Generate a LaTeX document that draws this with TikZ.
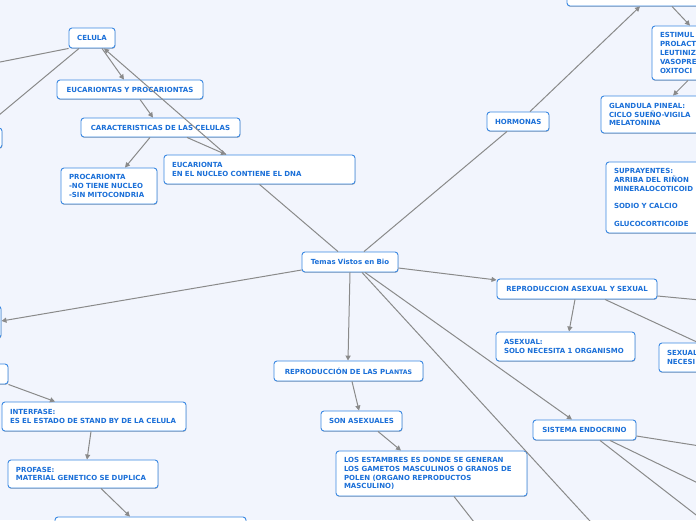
\documentclass[tikz,border=0pt]{standalone}
\usepackage{fontspec}
\setmainfont{DejaVu Sans}
\usetikzlibrary{arrows.meta,shadows}
\definecolor{bgc}{HTML}{F2F5FD}
\definecolor{bordc}{HTML}{3A88E2}
\definecolor{txtc}{HTML}{1A6FD8}
\definecolor{linec}{HTML}{8A8A8A}
\tikzset{
  box/.style={draw=bordc, line width=0.9pt, fill=white, rounded corners=3pt,
    text=txtc, font=\fontsize{7}{8.8}\selectfont\bfseries,
    inner xsep=8pt, inner ysep=2pt, align=left,
    drop shadow={shadow xshift=0.4pt, shadow yshift=-0.9pt, opacity=0.25, fill=black}},
  cbox/.style={box, align=center},
  conn/.style={draw=linec, line width=1pt},
  arr/.style={conn, -{Triangle[width=5pt,length=5pt]}}
}
\begin{document}
\begin{tikzpicture}[x=1pt,y=-1pt]
\useasboundingbox (0,0) rectangle (696,520);
\fill[bgc] (0,0) rectangle (696,520);

% off-canvas coordinates
\coordinate (offA) at (-10,64);
\coordinate (offB) at (600,532);
\coordinate (offC) at (700,300);
\coordinate (offD) at (474,522);
\coordinate (offE) at (700,446);
\coordinate (offF) at (700,484);
\coordinate (offG) at (700,518);

% nodes
\node[cbox, text width=30pt, minimum height=20pt] (celula) at (92,38) {CELULA};
\node[cbox, text width=130pt, minimum height=19pt] (eyp) at (130,89.5) {EUCARIONTAS Y PROCARIONTAS};
\node[cbox, text width=143pt, minimum height=19pt] (carac) at (160.5,127.5) {CARACTERISTICAS DE LAS CELULAS};
\node[box, text width=80pt, minimum height=36pt] (proc) at (109,186) {PROCARIONTA\\-NO TIENE NUCLEO\\-SIN MITOCONDRIA};
\node[box, text width=175pt, minimum height=29pt] (euc) at (259.5,169.5) {EUCARIONTA\\EN EL NUCLEO CONTIENE EL DNA};
\node[cbox, text width=80pt, minimum height=20pt] (temas) at (350,262) {Temas Vistos en Bio};
\node[cbox, text width=46pt, minimum height=19pt] (horm) at (518,121.5) {HORMONAS};
\node[box, text width=177pt, minimum height=26pt] (topbox) at (663.5,-7) {};
\node[box, text width=92pt, minimum height=54pt] (estim) at (706,53) {ESTIMUL\\PROLACT\\LEUTINIZ\\VASOPRE\\OXITOCI};
\node[box, text width=173pt, minimum height=37pt] (pineal) at (695.5,114.5) {GLANDULA PINEAL:\\CICLO SUEÑO-VIGILA\\MELATONINA};
\node[box, text width=168pt, minimum height=71pt] (supra) at (698,197.5) {SUPRAYENTES:\\ARRIBA DEL RIÑON\\MINERALOCOTICOID\\[8.8pt]SODIO Y CALCIO\\[8.8pt]GLUCOCORTICOIDE};
\node[cbox, text width=144pt, minimum height=20pt] (repro) at (577,289) {REPRODUCCION ASEXUAL Y SEXUAL};
\node[box, text width=123pt, minimum height=29pt] (asex) at (565.5,346.5) {ASEXUAL:\\SOLO NECESITA 1 ORGANISMO};
\node[box, text width=85pt, minimum height=29pt] (sexual) at (709.5,357.5) {SEXUAL\\NECESI};
\node[cbox, text width=133pt, minimum height=20pt] (plantas) at (348.5,371) {REPRODUCCIÓN DE LAS P{\fontsize{6.2}{8}\selectfont LANTAS}};
\node[cbox, text width=65pt, minimum height=20pt] (sonasex) at (361.5,421) {SON ASEXUALES};
\node[box, text width=175pt, minimum height=45pt] (estamb) at (431.5,473.5) {LOS ESTAMBRES ES DONDE SE GENERAN\\LOS GAMETOS MASCULINOS O GRANOS DE\\POLEN (ORGANO REPRODUCTOS\\MASCULINO)};
\node[cbox, text width=87pt, minimum height=20pt] (sistema) at (584.5,430) {SISTEMA ENDOCRINO};
\node[box, text width=168pt, minimum height=29pt] (interf) at (94,416.5) {INTERFASE:\\ES EL ESTADO DE STAND BY DE LA CELULA};
\node[box, text width=134pt, minimum height=28pt] (profase) at (83,474) {PROFASE:\\MATERIAL GENETICO SE DUPLICA};
\node[box, text width=175pt, minimum height=28pt] (bottomb) at (150.5,531) {};
\node[box, text width=86pt, minimum height=20pt] (leftA) at (-49,138) {};
\node[box, text width=135pt, minimum height=32pt] (leftB) at (-74.5,322) {};
\node[box, text width=92pt, minimum height=20pt] (leftC) at (-46,374) {};

% connectors
\draw[conn] (celula.south west) -- (offA);
\draw[conn] ([xshift=-13pt]celula.south) -- ([xshift=33pt]leftA.north);
\draw[arr] ([xshift=10pt]celula.south) -- ([xshift=-6pt]eyp.north);
\draw[arr] ([xshift=-33.5pt]euc.north) -- ([xshift=12pt]celula.south);
\draw[arr] ([xshift=10pt]eyp.south) -- ([xshift=-7.5pt]carac.north);
\draw[arr] ([xshift=-10.5pt]carac.south) -- ([xshift=16pt]proc.north);
\draw[arr] ([xshift=26.5pt]carac.south) -- ([xshift=-33.5pt]euc.north);
\draw[conn] (euc.south) -- ([xshift=-12pt]temas.north);
\draw[conn] ([xshift=14pt]temas.north) -- ([xshift=-11pt]horm.south);
\draw[arr] ([xshift=12pt]horm.north) -- ([xshift=-23.5pt]topbox.south);
\draw[arr] ([xshift=8.5pt]topbox.south) -- ([xshift=-16pt]estim.north);
\draw[arr] ([xshift=-18pt]estim.south) -- ([xshift=-22.5pt]pineal.north);
\draw[arr] ([yshift=-6pt]temas.east) -- ([yshift=9pt]repro.west);
\draw[arr] ([yshift=-8pt]temas.west) -- ([yshift=1pt]leftB.east);
\draw[arr] (temas.south) -- ([xshift=-0.5pt]plantas.north);
\draw[arr] ([xshift=15pt]temas.south) -- ([xshift=-12.5pt]sistema.north);
\draw[conn] ([xshift=12pt]temas.south) -- (offB);
\draw[arr] ([xshift=-2pt]repro.south) -- ([xshift=3.5pt]asex.north);
\draw[conn] ([yshift=-7pt]repro.east) -- (offC);
\draw[conn] ([xshift=28pt]repro.south) -- ([xshift=-11.5pt]sexual.north);
\draw[arr] ([xshift=3.5pt]plantas.south) -- ([xshift=-2.5pt]sonasex.north);
\draw[arr] ([xshift=16.5pt]sonasex.south) -- ([xshift=-30.5pt]estamb.north);
\draw[conn] ([xshift=22.5pt]estamb.south) -- (offD);
\draw[conn] ([yshift=-6pt]sistema.east) -- (offE);
\draw[conn] ([xshift=25.5pt]sistema.south) -- (offF);
\draw[conn] ([xshift=15.5pt]sistema.south) -- (offG);
\draw[arr] (leftC.south east) -- ([xshift=-39pt]interf.north);
\draw[arr] ([xshift=-3pt]interf.south) -- ([xshift=4pt]profase.north);
\draw[arr] ([xshift=18pt]profase.south) -- ([xshift=-20.5pt]bottomb.north);
\end{tikzpicture}
\end{document}
